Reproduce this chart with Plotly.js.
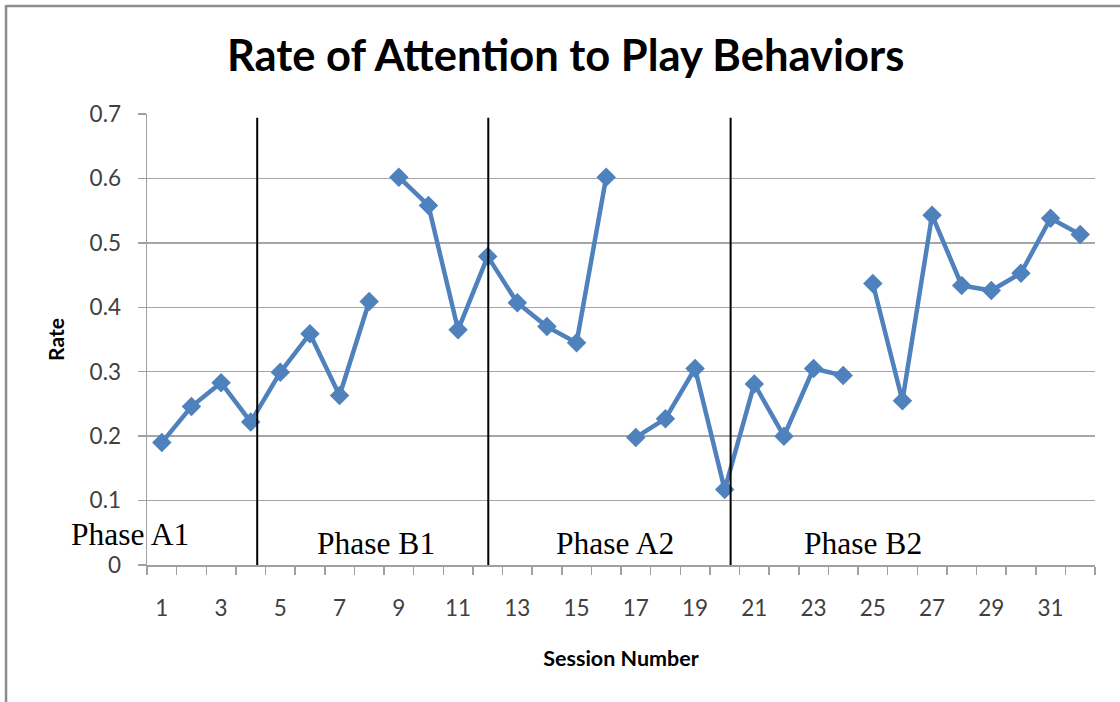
<!DOCTYPE html>
<html>
<head>
<meta charset="utf-8">
<script src="https://cdn.plot.ly/plotly-3.0.1.min.js"></script>
<style>
  html, body { margin: 0; padding: 0; background: #ffffff; }
  #chart { width: 1120px; height: 702px; }
</style>
</head>
<body>
<div id="chart"></div>
<script>
// ---- Data ----
const sessions = [1,2,3,4,5,6,7,8,9,10,11,12,13,14,15,16,17,18,19,20,21,22,23,24,25,26,27,28,29,30,31,32];
const rate = [0.190,0.246,0.283,0.222,0.299,0.359,0.263,0.409,
              0.602,0.558,0.365,0.479,0.407,0.370,0.345,0.602,
              0.198,0.227,0.305,0.117,0.281,0.200,0.305,0.294,
              0.437,0.255,0.543,0.434,0.426,0.453,0.538,0.513];
// sessions where the plotted line restarts (line is broken before these)
const segmentStarts = [1, 9, 17, 25];
// phase change lines (between sessions)
const phaseLines = [4.22, 12.02, 20.2];
const phaseLabels = ["Phase A1", "Phase B1", "Phase A2", "Phase B2"];
const phaseLabelX = [-0.07, 8.24, 16.3, 24.66];
const phaseLabelY = [0.048, 0.033, 0.033, 0.033];
const xTickVals = [1,3,5,7,9,11,13,15,17,19,21,23,25,27,29,31];
const xRange = [0.5, 32.5];

// ---- Build traces ----
const traces = [];
for (let s = 0; s < segmentStarts.length; s++) {
  const start = segmentStarts[s];
  const end = s + 1 < segmentStarts.length ? segmentStarts[s + 1] : sessions[sessions.length - 1] + 1;
  const xs = [], ys = [];
  sessions.forEach((k, i) => { if (k >= start && k < end) { xs.push(k); ys.push(rate[i]); } });
  traces.push({
    x: xs, y: ys, type: 'scatter', mode: 'lines+markers',
    line: {color: '#4f81bd', width: 4.5},
    marker: {symbol: 'diamond', size: 15, color: '#4f81bd'},
    showlegend: false, cliponaxis: false, hoverinfo: 'x+y'
  });
}

const shapes = phaseLines.map(v => ({
  type: 'line', xref: 'x', yref: 'y', x0: v, x1: v, y0: -0.0145, y1: 0.694,
  line: {color: '#000000', width: 2}
}));
// outer frame (left and top edges)
shapes.push({type: 'line', xref: 'paper', yref: 'paper', x0: -0.1487, x1: -0.1487, y0: -0.35, y1: 1.2417,
             line: {color: '#8c8c8c', width: 2.5}});
shapes.push({type: 'line', xref: 'paper', yref: 'paper', x0: -0.1487, x1: 1.1, y0: 1.2395, y1: 1.2395,
             line: {color: '#8c8c8c', width: 2.5}});

const toPaperX = v => (v - xRange[0]) / (xRange[1] - xRange[0]);
const annotations = phaseLabels.map((t, i) => ({
  text: t, x: toPaperX(phaseLabelX[i]), y: phaseLabelY[i], xref: 'paper', yref: 'y',
  showarrow: false, xanchor: 'center', yanchor: 'middle',
  font: {family: 'Liberation Serif, Times New Roman, serif', size: 31.5, color: '#000000'}
}));

const layout = {
  width: 1120, height: 702,
  margin: {l: 147, r: 25, t: 114, b: 137},
  paper_bgcolor: '#ffffff', plot_bgcolor: '#ffffff',
  title: {
    text: 'Rate of Attention to Play Behaviors',
    font: {family: 'Lato, Open Sans, sans-serif', size: 43.5, color: '#000000', weight: 'bold'},
    x: 0.505, xanchor: 'center', y: 0.92, yanchor: 'middle'
  },
  xaxis: {
    range: xRange, tickvals: xTickVals, ticktext: xTickVals.map(String),
    ticks: '', showgrid: false, zeroline: false,
    showline: true, linecolor: '#a0a0a0', linewidth: 1.5,
    tickfont: {family: 'Lato, Open Sans, sans-serif', size: 22.5, color: '#404040'},
    ticklabelstandoff: 22,
    minor: {ticks: 'outside', tick0: 0.5, dtick: 1, ticklen: 8, tickcolor: '#a0a0a0', tickwidth: 1.5, showgrid: false},
    title: {text: 'Session Number', standoff: 31,
            font: {family: 'Lato, Open Sans, sans-serif', size: 21.5, color: '#000000', weight: 'bold'}}
  },
  yaxis: {
    range: [0, 0.7], dtick: 0.1, tick0: 0,
    showgrid: true, gridcolor: '#a6a6a6', gridwidth: 1.5, zeroline: false,
    showline: true, linecolor: '#a0a0a0', linewidth: 1.5,
    ticks: 'outside', ticklen: 8, tickcolor: '#a0a0a0', tickwidth: 1.5,
    tickfont: {family: 'Lato, Open Sans, sans-serif', size: 22.5, color: '#404040'},
    ticklabelstandoff: 12,
    title: {text: 'Rate', standoff: 19,
            font: {family: 'Lato, Open Sans, sans-serif', size: 21, color: '#000000', weight: 'bold'}}
  },
  shapes: shapes,
  annotations: annotations
};

Plotly.newPlot('chart', traces, layout, {displayModeBar: false, staticPlot: true});
</script>
</body>
</html>
